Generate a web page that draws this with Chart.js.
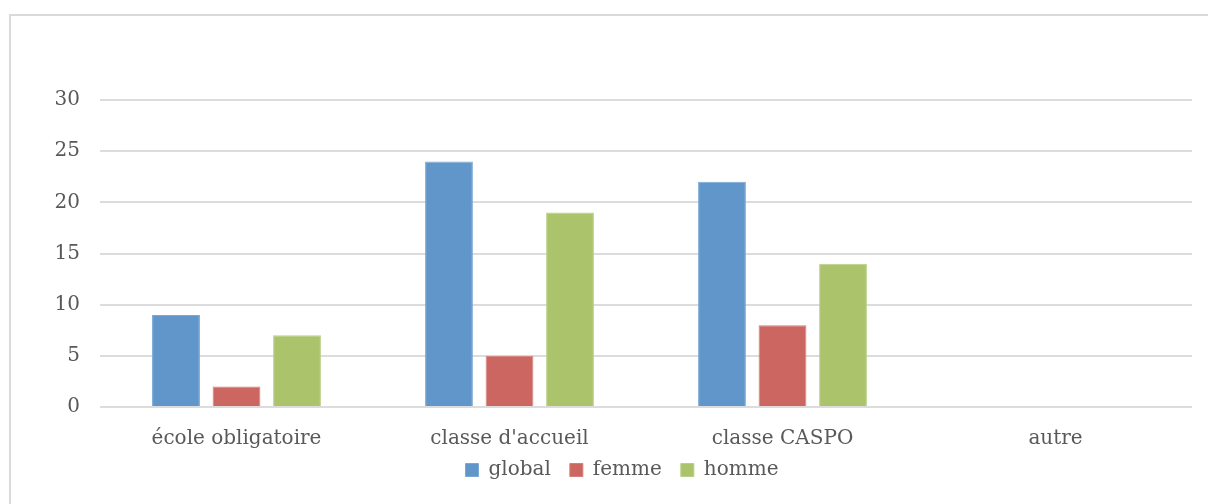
<!DOCTYPE html>
<html>
<head>
<meta charset="utf-8">
<script src="https://cdn.jsdelivr.net/npm/chart.js@4/dist/chart.umd.min.js"></script>
<style>
  body { margin: 0; background: #fff; }
  .frame { position: absolute; left: 9px; top: 14px; width: 1220px; height: 520px; border: 2px solid #dadada; box-sizing: border-box; }
  #wrap { position: absolute; left: 0; top: 0; width: 1208px; height: 504px; }
</style>
</head>
<body>
<div class="frame"></div>
<div id="wrap"><canvas id="chart"></canvas></div>
<script>
const categories = ["école obligatoire", "classe d'accueil", "classe CASPO", "autre"];
const globalvalues = [9, 24, 22, null];
const femmevalues = [2, 5, 8, null];
const hommevalues = [7, 19, 14, null];

const textcolor = "#595959";
const gridcolor = "#dcdcdc";

Chart.defaults.font.family = "'DejaVu Serif', serif";
Chart.defaults.font.size = 20;
Chart.defaults.color = textcolor;

const ctx = document.getElementById("chart").getContext("2d");

const bardefaults = {
    borderWidth: 1,
    borderSkipped: "bottom",
    categoryPercentage: 0.665,
    barPercentage: 0.79,
};

// nudge the legend up and right, closer to the x labels like in the original
const legendshift = {
    id: "legendshift",
    afterLayout(chart) {
        const lg = chart.legend;
        if (!lg) return;
        lg.top -= 22;
        lg.bottom -= 22;
        lg.left += 26;
        lg.right += 26;
    },
};

new Chart(ctx, {
    type: "bar",
    data: {
        labels: categories,
        datasets: [
            { label: "global", data: globalvalues, backgroundColor: "#6096ca", borderColor: "#7aa8d4", ...bardefaults },
            { label: "femme", data: femmevalues, backgroundColor: "#cc6660", borderColor: "#d67f7a", ...bardefaults },
            { label: "homme", data: hommevalues, backgroundColor: "#abc46b", borderColor: "#bacf86", ...bardefaults },
        ],
    },
    options: {
        responsive: true,
        maintainAspectRatio: false,
        animation: false,
        layout: { padding: { top: 100, right: 16, bottom: -8, left: 0 } },
        plugins: {
            legend: {
                position: "bottom",
                labels: { boxWidth: 13, boxHeight: 13, padding: 19, color: textcolor },
            },
            tooltip: { enabled: false },
        },
        scales: {
            x: {
                grid: { display: false },
                border: { display: false },
                ticks: { color: textcolor, padding: 12 },
            },
            y: {
                min: 0,
                max: 30,
                ticks: { stepSize: 5, color: textcolor, padding: 20 },
                grid: { color: gridcolor, lineWidth: 2, drawTicks: false },
                border: { display: false },
                afterFit: (scale) => { scale.width = 100; },
            },
        },
    },
    plugins: [legendshift],
});
</script>
</body>
</html>
